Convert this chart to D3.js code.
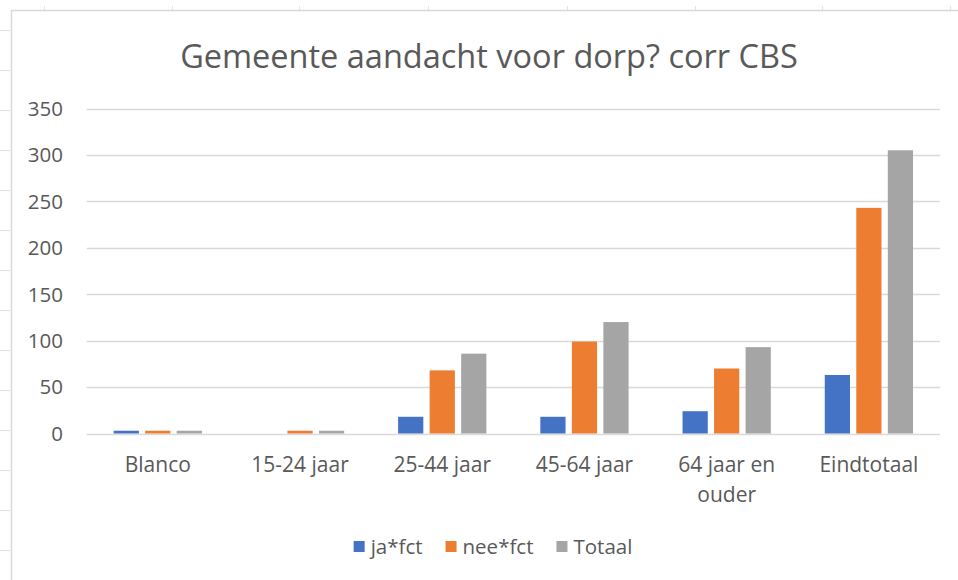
<!DOCTYPE html>
<html>
<head>
<meta charset="utf-8">
<script src="https://cdn.jsdelivr.net/npm/d3@7"></script>
<style>
  body { margin: 0; background: #fff; }
  text { font-family: "Open Sans", sans-serif; fill: #595959; }
</style>
</head>
<body>
<script>
const width = 958;
const height = 580;

const categories = ["Blanco", "15-24 jaar", "25-44 jaar", "45-64 jaar", "64 jaar en ouder", "Eindtotaal"];
const seriesNames = ["ja*fct", "nee*fct", "Totaal"];
const jaValues = [3, 0, 18, 18, 24, 63];
const neeValues = [3, 3, 68, 99, 70, 243];
const totaalValues = [3, 3, 86, 120, 93, 305];
const yTicks = [0, 50, 100, 150, 200, 250, 300, 350];

// excel sheet gridlines peeking out round the chart frame
const sheetColTicks = [44, 172, 299, 428, 567, 695, 822, 950];
const sheetRowTicks = [30, 70, 110, 150, 190, 230, 270, 310, 350, 390, 430, 470, 510, 550];

const colors = ["#4472c4", "#ed7d31", "#a5a5a5"];

let table = categories.map((c, i) => ({
    cat: c,
    vals: [jaValues[i], neeValues[i], totaalValues[i]]
}));

let svg = d3.select("body")
    .append("svg")
    .attr("width", width)
    .attr("height", height);

// sheet frame
let sheet = svg.append("g").attr("stroke", "#e1e1e1").attr("stroke-width", 1);
sheet.selectAll("line.col").data(sheetColTicks).enter()
    .append("line")
    .attr("x1", (d)=>d + 0.5).attr("x2", (d)=>d + 0.5)
    .attr("y1", 6).attr("y2", 10);
sheet.selectAll("line.row").data(sheetRowTicks).enter()
    .append("line")
    .attr("x1", 0).attr("x2", 10)
    .attr("y1", (d)=>d + 0.5).attr("y2", (d)=>d + 0.5);

svg.append("path")
    .attr("d", "M11.5," + height + "V10.5H" + width)
    .attr("fill", "none")
    .attr("stroke", "#d9d9d9")
    .attr("stroke-width", 1.5);

let plot = {left: 86.7, right: 940, top: 108.5, bottom: 433.5};

let x0 = d3.scaleBand()
    .domain(categories)
    .range([plot.left, plot.right])
    .paddingInner(0.335)
    .paddingOuter(0.1675);

let x1 = d3.scaleBand()
    .domain(seriesNames)
    .range([0, x0.bandwidth()])
    .paddingInner(0.2)
    .paddingOuter(0.1);

let y = d3.scaleLinear()
    .domain([0, 350])
    .range([plot.bottom, plot.top]);

// gridlines
svg.append("g")
    .selectAll("line")
    .data(yTicks)
    .enter()
    .append("line")
    .attr("x1", plot.left)
    .attr("x2", plot.right)
    .attr("y1", (d)=>Math.round(y(d)) + 0.5)
    .attr("y2", (d)=>Math.round(y(d)) + 0.5)
    .attr("stroke", "#d9d9d9")
    .attr("stroke-width", 1.3);

// y labels
svg.append("g")
    .attr("font-size", 20.5)
    .attr("text-anchor", "end")
    .selectAll("text")
    .data(yTicks)
    .enter()
    .append("text")
    .attr("x", 63)
    .attr("y", (d)=>y(d))
    .attr("dy", "0.36em")
    .text((d)=>d);

// bars
let groups = svg.append("g")
    .selectAll("g")
    .data(table)
    .enter()
    .append("g")
    .attr("transform", (d)=>"translate(" + x0(d.cat) + ",0)");

groups.selectAll("rect")
    .data((d)=>d.vals.map((v, i) => ({name: seriesNames[i], value: v, i: i})))
    .enter()
    .append("rect")
    .attr("x", (d)=>x1(d.name))
    .attr("width", x1.bandwidth())
    .attr("y", (d)=>y(d.value))
    .attr("height", (d)=>y(0) - y(d.value))
    .attr("fill", (d)=>colors[d.i]);

// x labels, wrapped like excel does
let xLabels = svg.append("g")
    .attr("font-size", 21)
    .attr("text-anchor", "middle")
    .selectAll("text")
    .data(categories)
    .enter()
    .append("text")
    .attr("x", (d)=>x0(d) + x0.bandwidth() / 2)
    .attr("y", 471.5);

xLabels.each(function(d){
    let t = d3.select(this);
    let lines = d.length > 12 ? [d.substring(0, d.lastIndexOf(" ")), d.substring(d.lastIndexOf(" ") + 1)] : [d];
    lines.forEach((l, k) => {
        t.append("tspan")
            .attr("x", x0(d) + x0.bandwidth() / 2)
            .attr("dy", k === 0 ? 0 : 30)
            .text(l);
    });
});

// title
svg.append("text")
    .attr("x", 489)
    .attr("y", 68)
    .attr("text-anchor", "middle")
    .attr("font-size", 32.5)
    .text("Gemeente aandacht voor dorp? corr CBS");

// legend, centred under the plot
let legend = svg.append("g")
    .attr("font-size", 20.5);

let lx = 0;
seriesNames.forEach((name, i) => {
    legend.append("rect")
        .attr("x", lx)
        .attr("y", 541)
        .attr("width", 11)
        .attr("height", 11)
        .attr("fill", colors[i]);
    let t = legend.append("text")
        .attr("x", lx + 17)
        .attr("y", 553.5)
        .text(name);
    lx += 17 + t.node().getComputedTextLength() + (i < seriesNames.length - 1 ? 23 : 0);
});
legend.attr("transform", "translate(" + (493 - lx / 2) + ",0)");
</script>
</body>
</html>
